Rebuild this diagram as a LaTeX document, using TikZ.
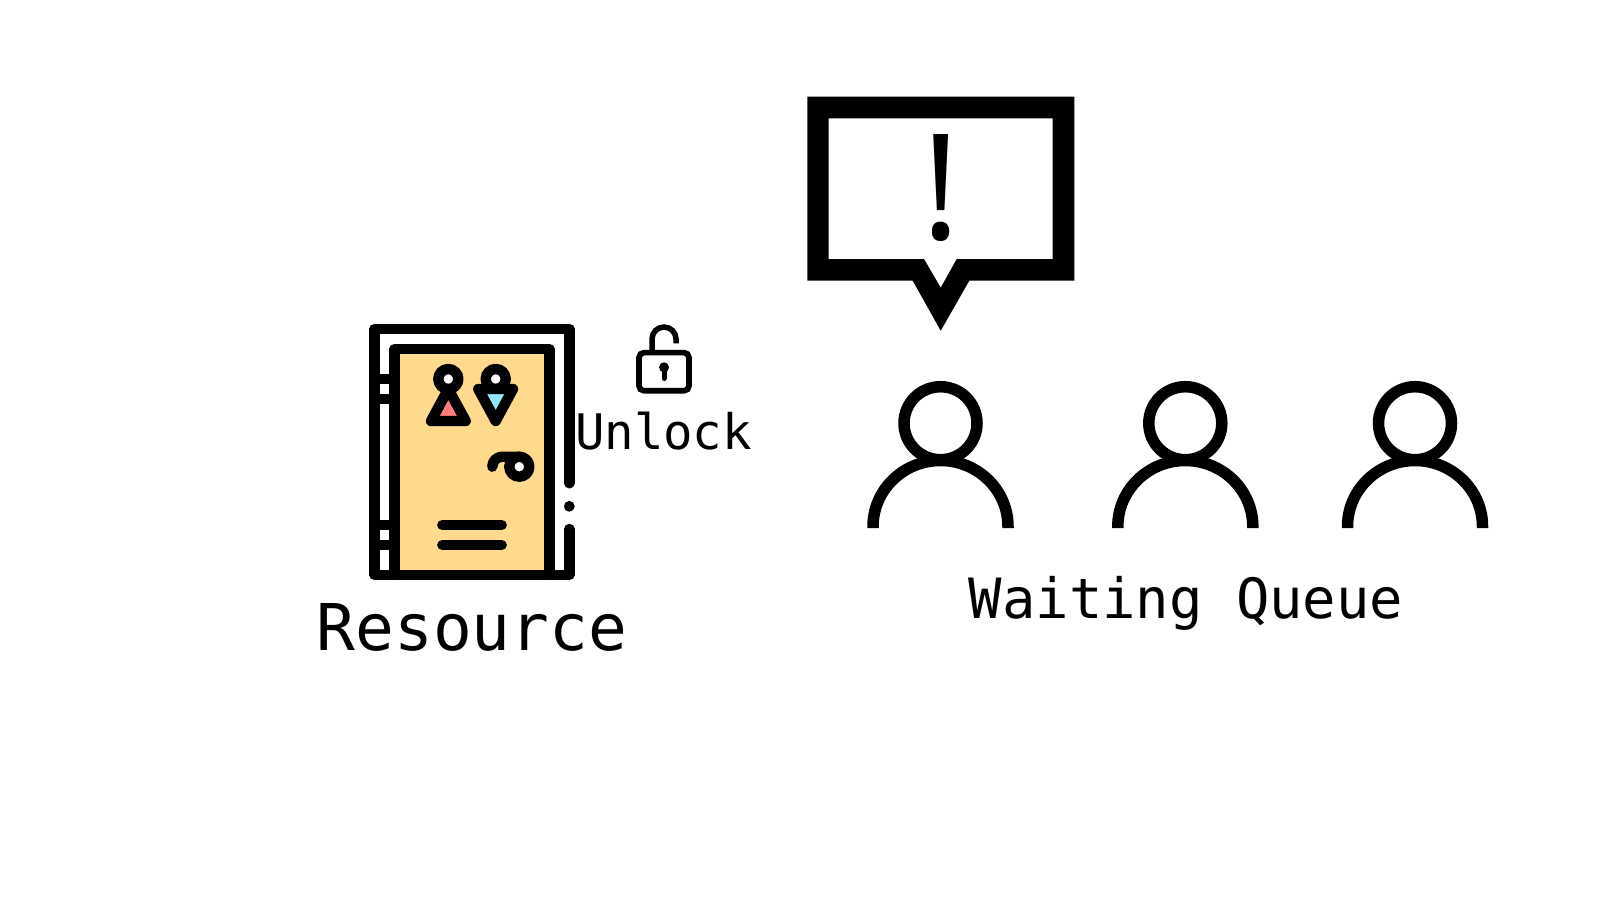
\documentclass[tikz,border=0pt]{standalone}
\usepackage{fontspec}
\setmonofont{DejaVu Sans Mono}
\newfontfamily\bangfont{Open Sans}
\definecolor{doorfill}{HTML}{FFD98C}
\definecolor{pinkfill}{HTML}{FF7C80}
\definecolor{cyanfill}{HTML}{90E8FA}
\tikzset{
  ink/.style={draw=black,line width=10.4pt,line cap=round,line join=round},
  flatink/.style={draw=black,line width=10.4pt,line cap=butt,line join=round},
  personline/.style={draw=black,line width=11.5pt,line cap=butt},
  locklabel/.style={font=\ttfamily\fontsize{49}{49}\selectfont,anchor=base,inner sep=0pt},
  reslabel/.style={font=\ttfamily\fontsize{64.5}{65}\selectfont,anchor=base,inner sep=0pt},
  queuelabel/.style={font=\ttfamily\fontsize{55.5}{56}\selectfont,anchor=base,inner sep=0pt},
  bang/.style={font=\bangfont\fontsize{147}{147}\selectfont,anchor=base,inner sep=0pt}
}
\newcommand{\personicon}[1]{%
  \begin{scope}[shift={(#1,0)}]
    \draw[personline] (0,423.2) circle[radius=36.5pt];
    \draw[personline] (-67.5,528) -- (-67.5,526.5) arc[start angle=180,end angle=0,x radius=67.5pt,y radius=66pt] -- (67.5,528);
  \end{scope}}
\begin{document}
\begin{tikzpicture}[x=1pt,y=-1pt]
\useasboundingbox (0,0) rectangle (1600,900);
\fill[white] (0,0) rectangle (1600,900);

% door
\fill[doorfill] (394.3,349) rectangle (549.3,574.8);
\draw[ink] (569.3,483.3) -- (569.3,329) -- (374.3,329) -- (374.3,574.8) -- (569.3,574.8) -- (569.3,529);
\fill (569.3,506.3) circle[radius=5.4pt];
\draw[ink] (394.3,574.8) -- (394.3,349) -- (549.3,349) -- (549.3,574.8);
\draw[flatink] (374.3,379) -- (394.3,379);
\draw[flatink] (374.3,399) -- (394.3,399);
\draw[flatink] (374.3,525) -- (394.3,525);
\draw[flatink] (374.3,545) -- (394.3,545);
\draw[ink] (442.3,525) -- (501.7,525);
\draw[ink] (442.3,545) -- (501.7,545);
% figures
\draw[ink,fill=pinkfill] (431,421) -- (465.7,421) -- (448.3,389) -- cycle;
\draw[ink,fill=white] (448.3,379) circle[radius=10pt];
\draw[ink,fill=white] (495.7,379) circle[radius=10pt];
\draw[ink,fill=cyanfill] (478.3,389) -- (513,389) -- (495.7,421) -- cycle;
% handle
\draw[ink] (492.3,466.7) arc[start angle=180,end angle=90,radius=10pt] -- (519.3,456.7);
\draw[ink,fill=white] (519.3,466.7) circle[radius=10pt];

% lock
\draw[line width=5.7pt,rounded corners=5pt] (639,352.6) rectangle (689,390.8);
\draw[line width=5.5pt,line cap=butt] (652,352) -- (652,339) arc[start angle=180,end angle=0,radius=12pt] -- (676,343.3);
\fill (664,367.3) circle[radius=5pt];
\draw[line width=5pt,line cap=round] (664,368) -- (664,378.5);

% bubble
\fill[even odd rule] (807.3,96.7) -- (1074.3,96.7) -- (1074.3,280.7) -- (969.3,280.7) -- (940.7,330.7) -- (912.7,280.7) -- (807.3,280.7) -- cycle
  (828.7,118.3) -- (1052.7,118.3) -- (1052.7,259) -- (956.7,259) -- (940.7,287.7) -- (924,259) -- (828.7,259) -- cycle;
\node[bang] (alert) at (940.7,239.3) {!};

% people
\personicon{940.5}
\personicon{1185.3}
\personicon{1415}

% labels
\node[locklabel] (unlock) at (663.5,449.3) {Unlock};
\node[reslabel] (resource) at (472,650) {Resource};
\node[queuelabel] (queue) at (1186,618.3) {Waiting Queue};
\end{tikzpicture}
\end{document}
